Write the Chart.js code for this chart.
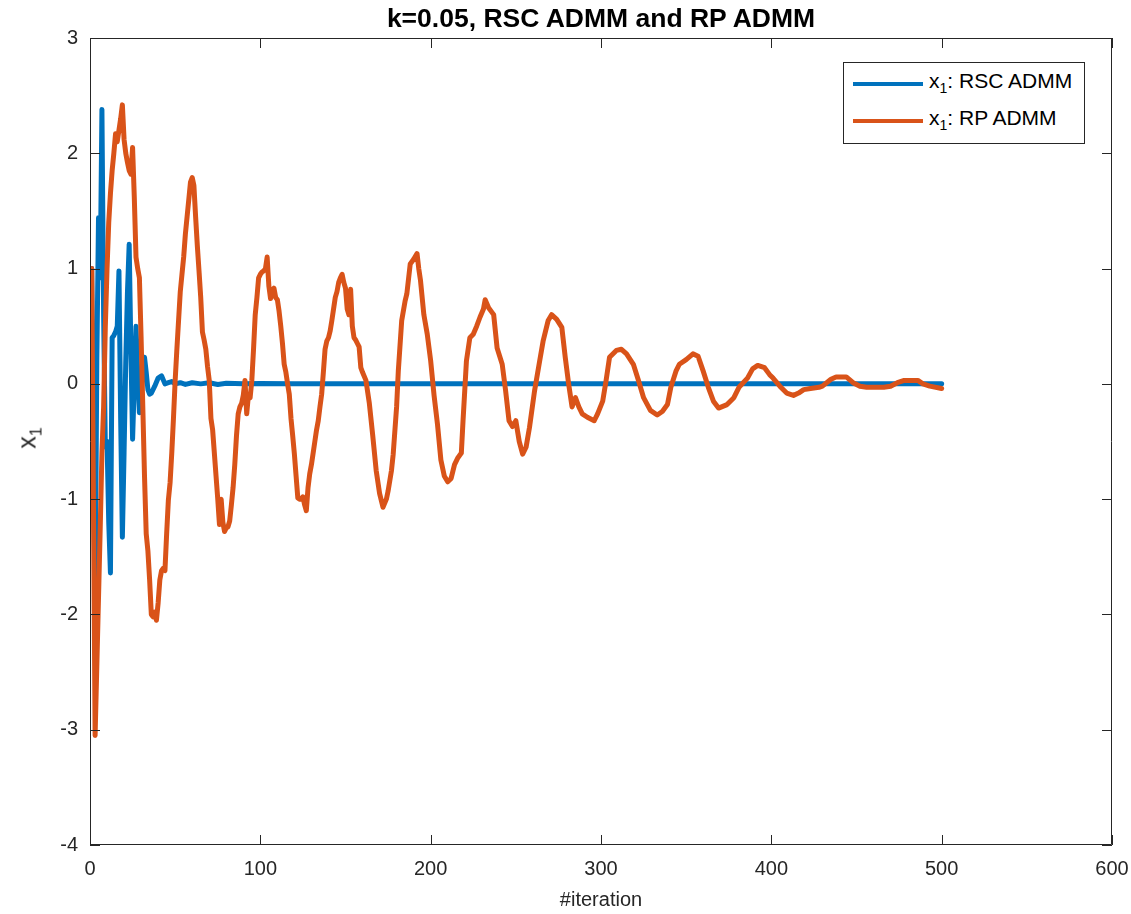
<!DOCTYPE html>
<html><head><meta charset="utf-8">
<script src="https://cdn.jsdelivr.net/npm/chart.js@4.4.0/dist/chart.umd.min.js"></script>
<style>
html,body{margin:0;padding:0;background:#fff;}
#wrap{position:relative;width:1131px;height:914px;overflow:hidden;}
canvas{position:absolute;left:0;top:0;}
.t{position:absolute;font-family:"Liberation Sans",Arial,Helvetica,sans-serif;color:#000;white-space:nowrap;}
#title{left:90px;width:1022px;top:3px;text-align:center;font-weight:bold;font-size:26.5px;}
#ylab{left:29px;top:438px;transform:translate(-50%,-50%) rotate(-90deg);font-size:25px;color:#262626;}
#ylab sub{font-size:16px;}
#legend{left:843px;top:62px;width:242px;height:82px;box-sizing:border-box;border:1px solid #262626;background:#fff;}
.row{position:absolute;left:0;width:100%;height:30px;}
.sample{position:absolute;left:9px;width:70px;height:4px;}
.lt{position:absolute;left:85px;font-size:21px;color:#000;line-height:24px;}
.lt sub{font-size:14px;}
</style></head><body>
<div id="wrap">
<canvas id="c" width="1131" height="914"></canvas>
<div id="title" class="t"></div>
<div id="ylab" class="t">x<sub>1</sub></div>
<div id="legend" class="t"></div>
</div>
<script>
// ---- data ----
const chartTitle = 'k=0.05, RSC ADMM and RP ADMM';
const xAxisLabel = '#iteration';
const seriesNames = ['RSC ADMM', 'RP ADMM'];
const seriesColors = ['#0072BD', '#D95319'];
const xTicks = [0, 100, 200, 300, 400, 500, 600];
const yTicks = [-4, -3, -2, -1, 0, 1, 2, 3];

const blueX = [1,2,3,4,5,6,7,8,9,10,11,12,13,14,15,16,17,18,19,20,21,22,23,24,25,26,27,28,29,30,31,32,33,34,35,36,38,40,42,44,46,48,50,53,56,60,65,70,75,80,90,100,120,150,200,250,300,350,400,450,500];
const blueY = [1.0,-0.5,-1.95,0.2,1.44,0.92,2.38,0.6,-0.55,-0.5,-1.2,-1.64,0.4,0.42,0.45,0.5,0.98,-0.3,-1.33,-0.6,0.2,0.8,1.21,0.3,-0.48,0.0,0.5,0.1,-0.25,-0.1,0.1,0.23,0.1,-0.05,-0.09,-0.08,-0.02,0.05,0.07,0.0,0.01,0.02,0.0,0.01,-0.005,0.01,0.0,0.01,-0.005,0.005,0.0,0.003,0.0,0.0,0.0,0.0,0.0,0.0,0.0,0.0,0.0];

const orangeX = [1,2,3,4,5,6,7,8,9,10,11,12,13,14,15,16,17,18,19,20,21,22,23,24,25,26,27,28,29,30,31,32,33,34,35,36,37,38,39,40,41,42,43,44,45,46,47,48,49,50,51,52,53,54,55,56,57,58,59,60,61,62,63,64,65,66,67,68,69,70,71,72,73,74,75,76,77,78,79,80,81,82,83,84,85,86,87,88,89,90,91,92,93,94,95,96,97,98,99,100,101,102,103,104,105,106,107,108,109,110,111,112,113,114,115,116,117,118,119,120,121,122,123,124,125,126,127,128,129,130,131,132,133,134,135,136,137,138,139,140,141,142,143,144,145,146,147,148,149,150,151,152,153,154,155,156,157,158,159,160,162,164,166,168,170,172,174,175,177,178,180,181,183,185,186,188,190,192,193,194,196,198,200,202,204,206,208,210,212,214,216,218,219,221,223,225,227,229,231,232,234,236,237,239,242,244,246,248,250,252,254,256,258,261,264,266,269,271,274,277,279,281,283,285,287,289,292,296,298,301,303,305,309,312,315,319,322,325,329,333,336,339,341,344,346,350,354,357,360,363,366,369,374,378,381,386,389,392,396,399,401,405,409,413,416,419,423,428,430,435,438,444,448,452,456,461,466,470,474,478,483,486,489,493,500];
const orangeY = [1.0,-1.0,-3.05,-2.45,-1.85,-1.25,-0.6,-0.2,0.5,1.0,1.4,1.65,1.85,2.0,2.17,2.1,2.2,2.3,2.42,2.12,2.0,1.92,1.85,1.82,2.05,1.62,1.1,1.0,0.92,0.4,-0.2,-0.8,-1.3,-1.45,-1.7,-2.0,-2.02,-1.98,-2.05,-1.9,-1.7,-1.62,-1.6,-1.62,-1.3,-1.01,-0.86,-0.6,-0.3,0.03,0.3,0.55,0.8,0.95,1.1,1.3,1.45,1.6,1.75,1.79,1.72,1.45,1.2,0.98,0.75,0.45,0.38,0.3,0.15,0.03,-0.3,-0.4,-0.6,-0.8,-1.0,-1.22,-1.0,-1.2,-1.28,-1.25,-1.24,-1.19,-1.05,-0.9,-0.7,-0.45,-0.26,-0.2,-0.17,-0.1,0.03,-0.26,-0.1,-0.12,0.03,0.3,0.6,0.75,0.92,0.95,0.97,0.98,1.0,1.1,0.85,0.74,0.8,0.83,0.75,0.73,0.63,0.5,0.35,0.17,0.1,0.0,-0.09,-0.3,-0.45,-0.61,-0.8,-0.99,-1.0,-1.0,-0.98,-1.05,-1.1,-0.9,-0.78,-0.7,-0.6,-0.5,-0.4,-0.32,-0.2,-0.09,0.1,0.3,0.37,0.4,0.46,0.55,0.65,0.75,0.8,0.88,0.92,0.95,0.88,0.83,0.65,0.6,0.82,0.5,0.4,0.38,0.35,0.32,0.14,0.1,0.03,-0.17,-0.45,-0.75,-0.95,-1.07,-1.0,-0.93,-0.75,-0.61,-0.2,0.11,0.55,0.72,0.78,1.04,1.08,1.13,1.0,0.9,0.6,0.43,0.2,-0.1,-0.35,-0.66,-0.8,-0.85,-0.82,-0.7,-0.64,-0.6,-0.32,0.2,0.4,0.43,0.5,0.58,0.65,0.73,0.66,0.62,0.6,0.31,0.17,-0.06,-0.32,-0.37,-0.32,-0.5,-0.61,-0.55,-0.38,-0.06,0.2,0.37,0.55,0.6,0.56,0.49,0.23,0.0,-0.2,-0.12,-0.2,-0.26,-0.29,-0.32,-0.26,-0.15,0.03,0.23,0.29,0.3,0.26,0.17,0.03,-0.12,-0.23,-0.27,-0.24,-0.18,-0.03,0.11,0.17,0.21,0.26,0.24,0.11,-0.03,-0.15,-0.21,-0.18,-0.12,-0.03,0.05,0.13,0.16,0.14,0.08,0.05,-0.02,-0.08,-0.1,-0.08,-0.05,-0.04,-0.03,-0.02,0.04,0.06,0.06,0.01,-0.02,-0.03,-0.03,-0.03,-0.02,0.01,0.03,0.03,0.03,0.0,-0.02,-0.04];

// ---- text overlays ----
document.getElementById('title').textContent = chartTitle;
const leg = document.getElementById('legend');
seriesNames.forEach((name, i) => {
  const row = document.createElement('div');
  row.className = 'row';
  row.style.top = (i === 0 ? 5 : 42) + 'px';
  const s = document.createElement('div');
  s.className = 'sample';
  s.style.top = '14px';
  s.style.background = seriesColors[i];
  const t = document.createElement('div');
  t.className = 'lt';
  t.style.top = '1px';
  t.innerHTML = 'x<sub>1</sub>: ' + name;
  row.appendChild(s); row.appendChild(t);
  leg.appendChild(row);
});

const axisColor = '#262626';
const fontFam = '"Liberation Sans", Arial, Helvetica, sans-serif';

const boxPlugin = {
  id: 'matlabBox',
  afterDatasetsDraw(chart) {
    const {ctx, chartArea: a, scales} = chart;
    ctx.save();
    ctx.strokeStyle = axisColor;
    ctx.lineWidth = 1;
    ctx.beginPath();
    ctx.rect(Math.round(a.left) + 0.5, Math.round(a.top) + 0.5, Math.round(a.right - a.left) - 1, Math.round(a.bottom - a.top) - 1);
    ctx.stroke();
    const tl = 10;
    ctx.beginPath();
    xTicks.forEach(v => {
      const px = Math.round(scales.x.getPixelForValue(v)) + 0.5;
      ctx.moveTo(px, a.bottom); ctx.lineTo(px, a.bottom - tl);
      ctx.moveTo(px, a.top); ctx.lineTo(px, a.top + tl);
    });
    yTicks.forEach(v => {
      const py = Math.round(scales.y.getPixelForValue(v)) + 0.5;
      ctx.moveTo(a.left, py); ctx.lineTo(a.left + tl, py);
      ctx.moveTo(a.right, py); ctx.lineTo(a.right - tl, py);
    });
    ctx.stroke();
    ctx.restore();
  }
};

new Chart(document.getElementById('c'), {
  type: 'line',
  data: {
    datasets: [
      { label: 'x\u2081: ' + seriesNames[0], data: blueX.map((x, i) => ({x, y: blueY[i]})), borderColor: seriesColors[0], backgroundColor: seriesColors[0], borderWidth: 5, pointRadius: 0, tension: 0, order: 2, borderJoinStyle: 'round', borderCapStyle: 'round' },
      { label: 'x\u2081: ' + seriesNames[1], data: orangeX.map((x, i) => ({x, y: orangeY[i]})), borderColor: seriesColors[1], backgroundColor: seriesColors[1], borderWidth: 5, pointRadius: 0, tension: 0, order: 1, borderJoinStyle: 'round', borderCapStyle: 'round' }
    ]
  },
  options: {
    responsive: false, animation: false, devicePixelRatio: 1,
    layout: { padding: { left: 0, right: 19, top: 38, bottom: 0 } },
    plugins: { legend: { display: false }, tooltip: { enabled: false }, title: { display: false } },
    scales: {
      x: {
        type: 'linear', min: 0, max: 600,
        afterBuildTicks(s) { s.ticks = xTicks.map(v => ({value: v})); },
        afterFit(s) { s.height = 69; s.paddingLeft = 0; s.paddingRight = 0; },
        grid: { display: false, drawTicks: false }, border: { display: false },
        ticks: { color: axisColor, font: { family: fontFam, size: 20 }, padding: 12, maxRotation: 0, autoSkip: false },
        title: { display: true, text: xAxisLabel, color: axisColor, font: { family: fontFam, size: 20 }, padding: { top: 0, bottom: 2 } }
      },
      y: {
        type: 'linear', min: -4, max: 3,
        afterBuildTicks(s) { s.ticks = yTicks.map(v => ({value: v})); },
        afterFit(s) { s.width = 90; s.paddingTop = 0; s.paddingBottom = 0; },
        grid: { display: false, drawTicks: false }, border: { display: false },
        ticks: { color: axisColor, font: { family: fontFam, size: 20 }, padding: 12, autoSkip: false }
      }
    }
  },
  plugins: [boxPlugin]
});
</script>
</body></html>
